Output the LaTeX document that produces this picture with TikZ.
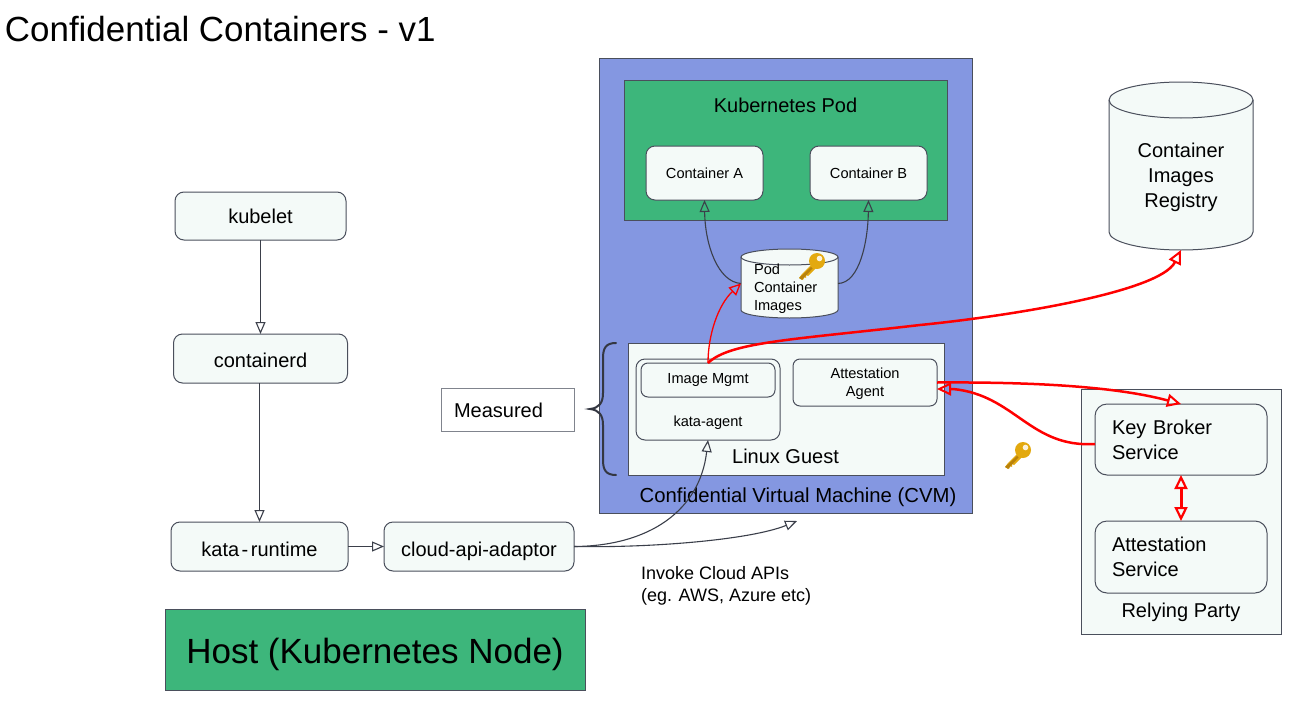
\documentclass[tikz,border=0pt]{standalone}
\usepackage{fontspec}
\setmainfont{Liberation Sans}
\usetikzlibrary{arrows.meta}
\newcommand\fz[2]{\fontsize{#1}{#2}\selectfont}
\newcommand\low[2]{\raisebox{0pt}[#1][0pt]{#2}}
\definecolor{cvmblue}{HTML}{8497E1}
\definecolor{podgreen}{HTML}{3DB67B}
\definecolor{pale}{HTML}{F4FAF8}
\definecolor{edge}{HTML}{4A4F5C}
\definecolor{keygold}{HTML}{E3A90F}
\definecolor{keydark}{HTML}{B9820B}
\tikzset{
  x=1pt,y=-1pt,
  base/.style={inner sep=0pt,outer sep=0pt,draw=edge,line width=1pt,text=black,align=center,font=\fz{20}{25}},
  rbox/.style={base,fill=pale,rounded corners=9pt},
  sbox/.style={base,fill=pale},
  label/.style={inner sep=0pt,outer sep=0pt,text=black,align=center,font=\fz{20}{25}},
  small/.style={font=\fz{14.6}{18}},
  thin arrow/.style={draw=edge!80!black,line width=1.1pt,-{Triangle[open,length=12pt,width=10pt]}},
  red thin/.style={draw=red,line width=1.3pt,-{Triangle[open,length=12pt,width=11pt,line width=1.3pt]}},
  red thick/.style={draw=red,line width=2.5pt,-{Triangle[open,length=14pt,width=13pt,line width=2pt]}},
  red both/.style={draw=red,line width=3pt,{Triangle[open,length=14pt,width=13pt,line width=2.2pt]}-{Triangle[open,length=14pt,width=13pt,line width=2.2pt]}},
  cyl/.style={draw=edge,line width=1pt,fill=pale},
  keyshape/.pic={
    \fill[keygold] (-13,12) -- (-10,8) -- (2,-4) -- (6,0) -- (-4,10) -- (-6,9) -- (-6,12) -- (-8,11) -- (-9,14) -- cycle;
    \fill[keydark] (-13,12) -- (-1,1) -- (0.5,2.5) -- (-10,14) -- cycle;
    \fill[keygold] (5,-5) circle[radius=8];
    \fill[white!85!keygold] (7.5,-7.5) circle[radius=2.8];
  }
}
\begin{document}
\begin{tikzpicture}
\useasboundingbox (0,0) rectangle (1300,701);
\fill[white] (0,0) rectangle (1300,701);

\node[label,anchor=base west,font=\fz{34.9}{38}] (title) at (5,41.5) {Confidential Containers - v1};

% host side
\node[rbox,minimum width=171pt,minimum height=48pt] (kubelet) at (260.5,216) {kubelet};
\node[rbox,minimum width=174pt,minimum height=49pt] (containerd) at (260.5,358.5) {\low{17.5pt}{containerd}};
\node[rbox,minimum width=177pt,minimum height=49pt] (runtime) at (259.5,546.5) {\low{19.5pt}{kata\kern2.5pt-\kern2.5pt runtime}};
\node[rbox,minimum width=190pt,minimum height=49pt] (adaptor) at (479,546.5) {\low{19.5pt}{cloud-api-adaptor}};
\node[base,fill=podgreen,minimum width=420pt,minimum height=81pt,font=\fz{35}{40}] (host) at (375,649.5) {\low{28pt}{Host (Kubernetes Node)}};
\node[sbox,fill=white,draw=edge!70,minimum width=133pt,minimum height=43pt,text width=107pt,align=left] (measured) at (507.5,409.5) {\low{16.5pt}{Measured}};

% CVM
\node[base,fill=cvmblue,minimum width=373pt,minimum height=454pt] (cvm) at (785.5,286) {};
\node[label,font=\fz{20.3}{25}] (cvmlabel) at (798,497.5) {Confidential Virtual Machine (CVM)};
\node[base,fill=podgreen,minimum width=323pt,minimum height=140pt] (pod) at (785.5,150) {};
\node[label] (podlabel) at (785.5,105) {Kubernetes Pod};
\node[rbox,small,minimum width=117pt,minimum height=54pt] (conta) at (704.5,173) {Container A};
\node[rbox,small,minimum width=117pt,minimum height=54pt] (contb) at (868.5,173) {Container B};

% pod images cylinder
\path[cyl] (741,257) -- (741,310) arc[start angle=180,end angle=0,x radius=48.5,y radius=8] -- (838,257)
  arc[start angle=0,end angle=-180,x radius=48.5,y radius=8] -- cycle;
\draw[edge,line width=1pt] (741,257) arc[start angle=180,end angle=0,x radius=48.5,y radius=8];
\node[inner sep=0pt,outer sep=0pt,minimum width=97pt,minimum height=69pt] (images) at (789.5,283.5) {};
\node[label,small,align=left,anchor=north west] (imageslabel) at (754,264) {Pod\\Container\\Images};

% Linux guest
\node[sbox,minimum width=316pt,minimum height=132pt] (guest) at (786,409) {};
\node[label] (guestlabel) at (785.5,456.5) {Linux Guest};
\node[rbox,minimum width=144pt,minimum height=81pt] (agentk) at (708,399.5) {};
\node[label,small] (agentklabel) at (708,422.5) {kata-agent};
\node[rbox,small,rounded corners=7pt,minimum width=134pt,minimum height=34pt] (imgmgmt) at (708,380) {Image Mgmt};
\node[rbox,small,rounded corners=7pt,minimum width=144pt,minimum height=47pt] (attest) at (865,382.5) {};
\node[label,small] (attestlabel) at (865,384) {Attestation\\Agent};

% brace
\draw[edge!70!black,line width=2pt,line cap=round] (616,343) .. controls (606,343) and (603,348) .. (603,358)
  -- (603,393) .. controls (603,403) and (599,408) .. (590,409)
  .. controls (599,410) and (603,415) .. (603,425)
  -- (603,460) .. controls (603,470) and (606,475) .. (616,475);

% registry cylinder
\path[cyl] (1109,100) -- (1109,232) arc[start angle=180,end angle=0,x radius=72,y radius=18] -- (1253,100)
  arc[start angle=0,end angle=-180,x radius=72,y radius=18] -- cycle;
\draw[edge,line width=1pt] (1109,100) arc[start angle=180,end angle=0,x radius=72,y radius=18];
\node[inner sep=0pt,outer sep=0pt,minimum width=144pt,minimum height=168pt] (registry) at (1181,166) {};
\node[label] (registrylabel) at (1181,177) {Container\\Images\\Registry};

% relying party
\node[sbox,minimum width=200pt,minimum height=245pt] (party) at (1181,511.5) {};
\node[label] (partylabel) at (1181,612.5) {Relying Party};
\node[rbox,rounded corners=12pt,minimum width=172pt,minimum height=71pt,text width=138pt,align=left] (kbs) at (1181,439.5) {Key Broker\\Service};
\node[rbox,rounded corners=12pt,minimum width=172pt,minimum height=72pt,text width=138pt,align=left] (as) at (1181,557) {Attestation\\Service};

\node[label,align=left,anchor=north west,font=\fz{18}{22}] (invoke) at (641,566) {Invoke Cloud APIs\\(eg. AWS, Azure etc)};

\coordinate (cloudapi) at (797,521);

% connectors
\draw[thin arrow] (kubelet.south) -- (containerd.north);
\draw[thin arrow] (containerd.south -| runtime.north) -- (runtime.north);
\draw[thin arrow] (runtime.east) -- (adaptor.west);
\draw[thin arrow] (adaptor.east) .. controls (650,546) and (700,510) .. (agentk.south);
\draw[thin arrow] (adaptor.east) .. controls (650,548) and (750,540) .. (cloudapi);
\draw[thin arrow] (images.west) .. controls (718,282) and (705,245) .. (conta.south);
\draw[thin arrow] (images.east) .. controls (860,283) and (868,240) .. (contb.south);
\draw[red thin] (imgmgmt.north) .. controls (708,335) and (718,305) .. (images.west);
\draw[red thick] (imgmgmt.north) .. controls (730,342) and (790,340) .. (920,325)
  .. controls (1010,316) and (1160,292) .. (registry.south);
\draw[red thick] (attest.east) .. controls (1020,382) and (1110,385) .. (kbs.north);
\draw[red thick] ([yshift=-4.5pt]kbs.west) .. controls (1030,448) and (1015,395) .. (953,389) -- ([yshift=-6.5pt]attest.east);
\draw[red both] (kbs.south) -- (as.north);

% keys
\pic at (812,266) {keyshape};
\pic at (1018,455) {keyshape};
\end{tikzpicture}
\end{document}
